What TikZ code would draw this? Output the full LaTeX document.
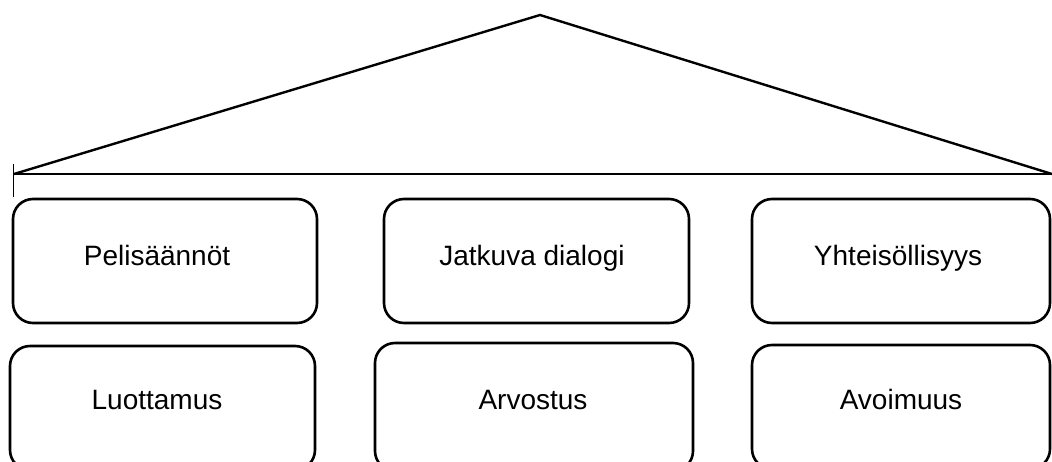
\documentclass[tikz,border=0pt]{standalone}
\usepackage{fontspec}
\setmainfont{Liberation Sans}
\usetikzlibrary{calc}
\begin{document}
\begin{tikzpicture}[x=1pt,y=-1pt,
  box/.style={draw=black, line width=2.6pt, rounded corners=20pt, fill=white, inner sep=0pt},
  lbl/.style={font=\fontsize{28}{32}\selectfont, inner sep=0pt, anchor=base},
  roof/.style={draw=black, line width=2.4pt, line join=miter}]
\useasboundingbox (0,0) rectangle (1052,461);
\begin{scope}
\clip (0,0) rectangle (1052,461);
% roof
\coordinate (apex) at (540,15);
\coordinate (bl) at (14,174);
\coordinate (br) at (1052,174);
\coordinate (tickT) at (13.5,164);
\coordinate (tickB) at (13.5,197);
\draw[roof] (bl) -- (apex) -- (br);
\draw[roof] (bl) -- (br);
\draw[line width=1.6pt] (tickT) -- (tickB);
% boxes
\node[box, minimum width=304pt, minimum height=124pt] (b1) at (165,261) {};
\node[box, minimum width=305pt, minimum height=124pt] (b2) at (536.5,261) {};
\node[box, minimum width=298pt, minimum height=124pt] (b3) at (901,261) {};
\node[box, minimum width=305pt, minimum height=124pt] (b4) at (162.5,408) {};
\node[box, minimum width=318pt, minimum height=128pt] (b5) at (534,407) {};
\node[box, minimum width=298pt, minimum height=124pt] (b6) at (901,407) {};
\end{scope}
\node[lbl] (t1) at ($(b1.center)+(-8,4)$) {Pelisäännöt};
\node[lbl] (t2) at ($(b2.center)+(-4.5,4)$) {Jatkuva dialogi};
\node[lbl] (t3) at ($(b3.center)+(-3,4)$) {Yhteisöllisyys};
\node[lbl] (t4) at ($(b4.center)+(-5.5,1)$) {Luottamus};
\node[lbl] (t5) at ($(b5.center)+(-1,2)$) {Arvostus};
\node[lbl] (t6) at ($(b6.center)+(0,2)$) {Avoimuus};
\end{tikzpicture}
\end{document}
